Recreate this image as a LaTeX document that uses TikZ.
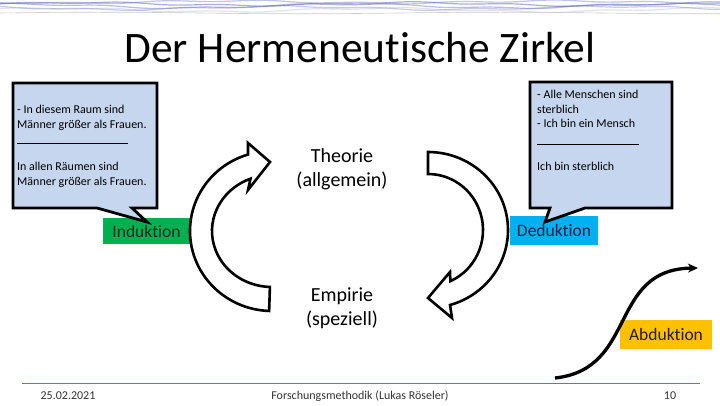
\documentclass[tikz,border=0pt]{standalone}
\usepackage{fontspec}
\setmainfont[Ligatures={NoCommon}]{Carlito}
\usetikzlibrary{calc,arrows.meta}
\definecolor{cbfill}{RGB}{198,214,238}
\definecolor{indgreen}{RGB}{0,176,80}
\definecolor{dedblue}{RGB}{0,176,240}
\definecolor{abdorange}{RGB}{255,192,0}
\definecolor{footline}{RGB}{96,124,150}
\definecolor{waveblue}{RGB}{100,110,190}
\begin{document}
\begin{tikzpicture}[x=1pt,y=1pt,
  callout/.style={draw=black, line width=2.8pt, fill=cbfill, line join=miter, miter limit=6},
  blockarrow/.style={draw=black, line width=2.6pt, fill=white, line join=miter},
  cotext/.style={anchor=base west, inner sep=0pt, font=\fontsize{12}{14}\selectfont},
  lbox/.style={inner sep=0pt, font=\fontsize{17.5}{20}\selectfont},
  midtext/.style={align=center, font=\fontsize{20}{24}\selectfont, inner sep=0pt},
  foot/.style={inner sep=0pt, anchor=base, font=\fontsize{12}{14}\selectfont, text=black!80},
  wave/.style={line width=1.2pt, line cap=round}
]
\useasboundingbox (0,0) rectangle (720,405);
\fill[white] (0,0) rectangle (720,405);

% top decorative band
\foreach \yy/\ph/\am/\op in {401/0/1.5/0.55, 399/70/2/0.45, 397/140/1.6/0.35, 403/200/1.2/0.4, 395/30/1.8/0.2}{
  \draw[wave, waveblue, opacity=\op] plot[domain=0:720, samples=90] (\x, {\yy + \am*sin(\x*1.1+\ph) + 0.8*sin(\x*3.7+\ph)});
}
\draw[line width=0.6pt, black!20] plot[domain=0:720, samples=60] (\x, {392 + 0.8*sin(\x*0.9)});

% title
\node[inner sep=0pt, font=\fontsize{43.5}{50}\selectfont] (title) at (360,357) {Der Hermeneutische Zirkel};

% label boxes
\node[lbox, fill=indgreen, minimum width=87pt, minimum height=26pt, text=black!85] (ind) at (146.5,174) {Induktion};
\node[lbox, fill=dedblue, minimum width=88pt, minimum height=29pt, text={rgb,255:red,10;green,35;blue,70}] (ded) at (554,174.5) {Deduktion};
\node[lbox, fill=abdorange, minimum width=92pt, minimum height=29pt, text={rgb,255:red,40;green,25;blue,10}] (abd) at (666,70.5) {Abduktion};

% left callout
\draw[callout] (13,322) -- (157,322) -- (157,197) -- (132,197) -- (147,183) -- (97,197) -- (13,197) -- cycle;
\node[cotext] (l1) at (17,291) {- In diesem Raum sind};
\node[cotext] (l2) at (17,276) {Männer größer als Frauen.};
\draw[line width=0.7pt] (17,262) -- (128,262);
\node[cotext] (l3) at (17,235) {In allen Räumen sind};
\node[cotext] (l4) at (17,220) {Männer größer als Frauen.};

% right callout
\draw[callout] (530,323) -- (672,323) -- (672,197) -- (585,197) -- (545,183) -- (550,197) -- (530,197) -- cycle;
\node[cotext] (r1) at (537,306) {- Alle Menschen sind};
\node[cotext] (r2) at (537,291) {sterblich};
\node[cotext] (r3) at (537,277) {- Ich bin ein Mensch};
\draw[line width=0.7pt] (537,261) -- (639,261);
\node[cotext] (r4) at (537,234) {Ich bin sterblich};

% centre texts
\node[midtext] (theo) at (342,236) {Theorie\\(allgemein)};
\node[midtext] (emp) at (342,97) {Empirie\\(speziell)};

% left block arrow
\coordinate (cL) at (272,174);
\draw[blockarrow] ($(cL)+(268:82pt and 80pt)$) arc[start angle=268, end angle=107, x radius=82pt, y radius=80pt]
  -- (248,262) -- (270,243) -- (248,215) -- ($(cL)+(111:60pt and 56pt)$)
  arc[start angle=111, end angle=268, x radius=60pt, y radius=56pt] -- cycle;

% right block arrow
\coordinate (cR) at (428,175);
\draw[blockarrow] ($(cR)+(90:80pt and 78pt)$) arc[start angle=90, end angle=-74, x radius=80pt, y radius=78pt]
  -- (452,87) -- (428,107) -- (450,133) -- ($(cR)+(-66:55pt and 56pt)$)
  arc[start angle=-66, end angle=90, x radius=55pt, y radius=56pt] -- cycle;

% abduction curve
\coordinate (abs) at (555,27);
\coordinate (abe) at (698,137);
\draw[line width=3.3pt, -{Stealth[length=10pt,width=9pt]}] (abs) .. controls (638,36) and (608,136) .. (abe);

% footer
\draw[footline, line width=0.9pt] (22,22) -- (700,22);
\node[foot] (date) at (68,6) {25.02.2021};
\node[foot] (course) at (360,6) {Forschungsmethodik (Lukas Röseler)};
\node[foot] (page) at (670,6) {10};
\end{tikzpicture}
\end{document}
